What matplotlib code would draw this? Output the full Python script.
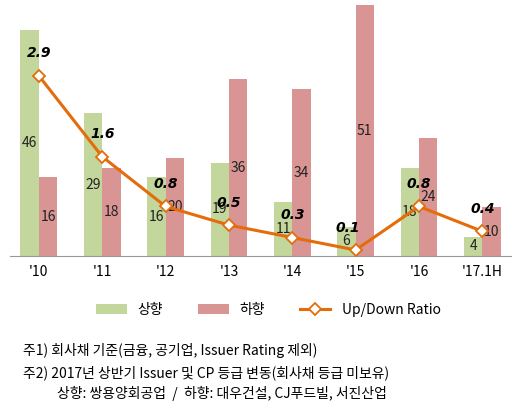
import matplotlib
matplotlib.use("Agg")
import matplotlib.pyplot as plt
import numpy as np

plt.rcParams['font.family'] = ['Noto Sans CJK KR', 'DejaVu Sans']

categories = ["'10", "'11", "'12", "'13", "'14", "'15", "'16", "'17.1H"]
up = [46, 29, 16, 19, 11, 6, 18, 4]
down = [16, 18, 20, 36, 34, 51, 24, 10]
ratio = [2.9, 1.6, 0.8, 0.5, 0.3, 0.1, 0.8, 0.4]
ratio_labels = ["2.9", "1.6", "0.8", "0.5", "0.3", "0.1", "0.8", "0.4"]

green = "#C3D69B"
pink = "#D99594"
orange = "#E46C0A"

fig = plt.figure(figsize=(5.16, 4.2), dpi=100)
ax = fig.add_axes([0.02, 0.39, 0.97, 0.60])
x = np.arange(len(categories))
w = 0.29
b1 = ax.bar(x - w/2, up, w, color=green, label="상향")
b2 = ax.bar(x + w/2, down, w, color=pink, label="하향")
for xi, v in zip(x, up):
    ax.text(xi - w/2, v/2, str(v), ha="center", va="center", fontsize=10, color="#222")
for xi, v in zip(x, down):
    ax.text(xi + w/2, v/2, str(v), ha="center", va="center", fontsize=10, color="#222")
ax.set_ylim(0, 51.2)
ax.set_xlim(-0.45, len(categories) - 0.55)
ax.set_yticks([])
for s in ["top", "right", "left"]:
    ax.spines[s].set_visible(False)
ax.spines["bottom"].set_color("#999")
ax.set_xticks(x)
ax.set_xticklabels(categories, fontsize=10)
ax.tick_params(axis="x", length=0, pad=6)

ax2 = ax.twinx()
ax2.set_ylim(0, 4.05)
ln, = ax2.plot(x, ratio, color=orange, lw=2.2, marker="D", markersize=6,
               markerfacecolor="white", markeredgecolor=orange, markeredgewidth=1.3,
               label="Up/Down Ratio")
for i, (xi, v, t) in enumerate(zip(x, ratio, ratio_labels)):
    dx = -6 if i == 5 else 0
    ax2.annotate(t, (xi, v), xytext=(dx, 11), textcoords="offset points",
                 ha="center", va="bottom", fontsize=10, fontweight="bold",
                 fontstyle="italic", family="DejaVu Sans")
ax2.axis("off")

fig.legend([b1, b2, ln], ["상향", "하향", "Up/Down Ratio"], loc="center",
           bbox_to_anchor=(0.52, 0.262), ncol=3, frameon=False, fontsize=10,
           handlelength=2.2, columnspacing=2.5)

fig.text(0.045, 0.155, "주1) 회사채 기준(금융, 공기업, Issuer Rating 제외)", fontsize=10)
fig.text(0.045, 0.103, "주2) 2017년 상반기 Issuer 및 CP 등급 변동(회사채 등급 미보유)", fontsize=10)
fig.text(0.11, 0.052, "상향: 쌍용양회공업  /  하향: 대우건설, CJ푸드빌, 서진산업", fontsize=10)

fig.savefig("out.png", dpi=100)
